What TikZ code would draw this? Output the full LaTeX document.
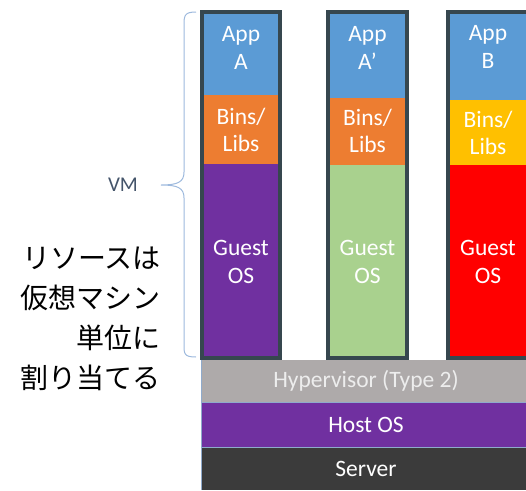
\documentclass[tikz,border=0pt]{standalone}
\usepackage{fontspec}
\setmainfont{Carlito}
\newfontfamily\jpfont{Noto Sans CJK JP}
\definecolor{appblue}{HTML}{5B9BD5}
\definecolor{binorange}{HTML}{ED7D31}
\definecolor{binyellow}{HTML}{FFC000}
\definecolor{ospurple}{HTML}{7030A0}
\definecolor{osgreen}{HTML}{A9D18E}
\definecolor{osred}{HTML}{FF0000}
\definecolor{vmborder}{HTML}{36474F}
\definecolor{hvgray}{HTML}{AEAAAA}
\definecolor{serverdark}{HTML}{3B3B3B}
\definecolor{bracecol}{HTML}{9DB9DD}
\definecolor{vmtext}{HTML}{44546A}
\definecolor{seplin}{HTML}{8FAACC}
\tikzset{
  layer/.style={inner sep=0pt, outer sep=0pt, anchor=north west},
  boxtxt/.style={text=white, font=\fontsize{23.5}{27.5}\selectfont, align=center, inner sep=0pt},
  layertxt/.style={font=\fontsize{23.5}{27}\selectfont},
  vmframe/.style={draw=vmborder, line width=4pt},
}
\begin{document}
\begin{tikzpicture}[x=1pt,y=-1pt]
\useasboundingbox (0,0) rectangle (526,490);
\clip (0,0) rectangle (526,490);
% column 1
\fill[appblue] (203,13) rectangle (279,95);
\fill[binorange] (203,95) rectangle (279,164);
\fill[ospurple] (203,164) rectangle (279,357);
\node[vmframe, layer, minimum width=78pt, minimum height=346pt] (vm1) at (202,12) {};
\node[boxtxt] (appA) at (241,48) {App\\A};
\node[boxtxt] (binsA) at (241,130) {Bins/\\Libs};
\node[boxtxt] (osA) at (241,262) {Guest\\OS};
% column 2
\fill[appblue] (329,13) rectangle (406,98);
\fill[binorange] (329,98) rectangle (406,165);
\fill[osgreen] (329,165) rectangle (406,357);
\node[vmframe, layer, minimum width=79pt, minimum height=346pt] (vm2) at (328,12) {};
\node[boxtxt] (appA2) at (367.5,48) {App\\A’};
\node[boxtxt] (binsA2) at (367.5,131) {Bins/\\Libs};
\node[boxtxt] (osA2) at (367.5,262) {Guest\\OS};
% column 3
\fill[appblue] (449,13) rectangle (527,100);
\fill[binyellow] (449,100) rectangle (527,165);
\fill[osred] (449,165) rectangle (527,357);
\node[vmframe, layer, minimum width=80pt, minimum height=346pt] (vm3) at (448,12) {};
\node[boxtxt] (appB) at (488,47) {App\\B};
\node[boxtxt] (binsB) at (488,133) {Bins/\\Libs};
\node[boxtxt] (osB) at (488,262) {Guest\\OS};
% bottom layers
\node[layer, fill=hvgray, minimum width=330pt, minimum height=42pt] (hv) at (201,360) {};
\node[layertxt, text=white!93!black] (hvt) at (hv.center) {Hypervisor (Type 2)};
\node[layer, fill=ospurple, minimum width=330pt, minimum height=45pt] (host) at (201,402) {};
\node[layertxt, text=white] (hostt) at (host.center) {Host OS};
\node[layer, fill=serverdark, minimum width=330pt, minimum height=43pt] (srv) at (201,447) {};
\node[layertxt, text=white] (srvt) at (srv.center) {Server};
\draw[seplin, line width=0.8pt] (hv.south west) -- (hv.south east);
\draw[seplin, line width=0.8pt] (host.south west) -- (host.south east);
\draw[seplin, line width=0.8pt] (hv.north west) -- (srv.south west);
% brace
\coordinate (btop) at (196,12);
\coordinate (bbot) at (196,357);
\coordinate (btip) at (161,185);
\draw[bracecol, line width=1pt] (btop) .. controls (184,12) and (184,16) .. (184,26)
  -- (184,172) .. controls (184,182) and (178,185) .. (btip)
  .. controls (178,185) and (184,188) .. (184,198)
  -- (184,344) .. controls (184,354) and (184,357) .. (bbot);
\node[text=vmtext, font=\fontsize{21}{23}\selectfont, anchor=center] (vm) at (123,185) {VM};
% japanese text
\node[font=\jpfont\fontsize{28}{40}\selectfont, align=right, anchor=east, inner sep=0pt] (res) at (161,319) {リソースは\\仮想マシン\\単位に\\割り当てる};
\end{tikzpicture}
\end{document}
